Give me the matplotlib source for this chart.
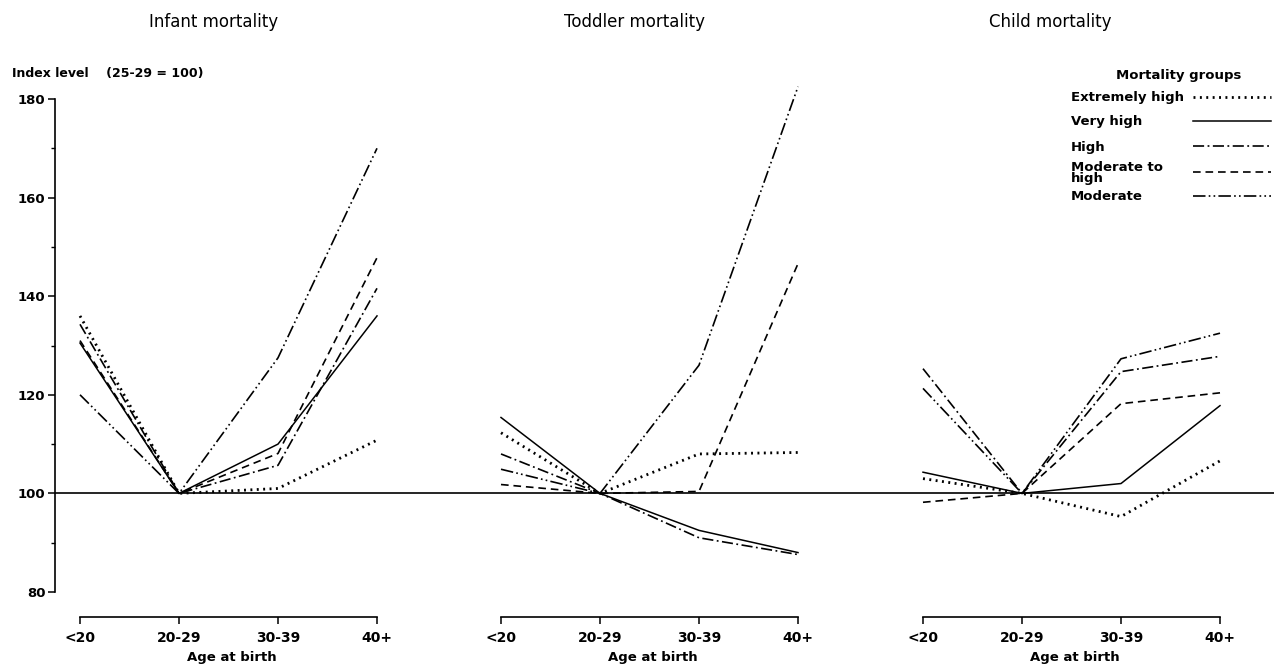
import matplotlib
matplotlib.use("Agg")
import matplotlib.pyplot as plt
from matplotlib.ticker import MultipleLocator

plt.rcParams['font.family'] = ['DejaVu Sans']
plt.rcParams['lines.scale_dashes'] = False

ages = ['<20', '20-29', '30-39', '40+']
panel_titles = ['Infant mortality', 'Toddler mortality', 'Child mortality']
groups = ['Extremely high', 'Very high', 'High', 'Moderate to\nhigh', 'Moderate']

# rows follow the order of groups, columns follow ages
infant = [
    [136.0, 100, 101.0, 110.8],
    [130.5, 100, 110.0, 136.0],
    [134.3, 100, 105.7, 141.6],
    [131.0, 100, 108.1, 147.8],
    [120.0, 100, 127.5, 170.0],
]
toddler = [
    [112.3, 100, 108.0, 108.3],
    [115.4, 100, 92.5, 88.0],
    [108.0, 100, 91.0, 87.6],
    [101.8, 100, 100.4, 146.6],
    [104.9, 100, 126.0, 182.5],
]
child = [
    [103.0, 100, 95.3, 106.6],
    [104.3, 100, 102.0, 117.8],
    [125.3, 100, 124.7, 127.8],
    [98.2, 100, 118.2, 120.4],
    [121.3, 100, 127.3, 132.5],
]
panel_data = [infant, toddler, child]

# line style per group (dashes in points)
styles = [
    dict(ls=(0, (1.4, 3.2)), lw=2.0),
    dict(ls='-', lw=1.1),
    dict(ls=(0, (8, 2.5, 1.3, 2.5)), lw=1.2),
    dict(ls=(0, (5.5, 3.5)), lw=1.2),
    dict(ls=(0, (9, 2.3, 1.2, 2.3, 1.2, 2.3)), lw=1.2),
]

W, H = 1274, 668
fig = plt.figure(figsize=(W / 100, H / 100), dpi=100)

y_bot, y_top = 592, 99  # pixel rows of 80 and 180

# shared y axis and the 100 reference line
ax0 = fig.add_axes([55 / W, 1 - y_bot / H, (W - 55) / W, (y_bot - y_top) / H])
ax0.set_ylim(80, 180)
ax0.set_xlim(0, 1)
ax0.axhline(100, color='black', lw=1.2)
for s in ['top', 'right', 'bottom']:
    ax0.spines[s].set_visible(False)
ax0.spines['left'].set_linewidth(1.2)
ax0.set_xticks([])
ax0.yaxis.set_major_locator(MultipleLocator(20))
ax0.yaxis.set_minor_locator(MultipleLocator(10))
ax0.tick_params(axis='y', which='major', length=5, width=1.1, pad=2, labelsize=9.5)
ax0.tick_params(axis='y', which='minor', length=3, width=1.0)
for lab in ax0.get_yticklabels():
    lab.set_fontweight('bold')

fig.text(12 / W, 1 - 73 / H, 'Index level    (25-29 = 100)', fontsize=9,
         fontweight='bold', va='center', ha='left')

lefts = [80, 501, 923]
title_x = [214, 634, 1050]
for i, data in enumerate(panel_data):
    ax = fig.add_axes([lefts[i] / W, 1 - y_bot / H, 297 / W, (y_bot - y_top) / H])
    ax.patch.set_visible(False)
    ax.set_xlim(0, 3)
    ax.set_ylim(80, 180)
    for s in ['top', 'right', 'left']:
        ax.spines[s].set_visible(False)
    ax.spines['bottom'].set_position(('outward', 18))
    ax.spines['bottom'].set_linewidth(1.2)
    ax.set_yticks([])
    ax.set_xticks(range(len(ages)))
    ax.set_xticklabels(ages, fontsize=10, fontweight='bold')
    ax.tick_params(axis='x', length=5, width=1.1, pad=5)
    for row, st in zip(data, styles):
        ax.plot(range(len(ages)), row, color='black', clip_on=False,
                linestyle=st['ls'], linewidth=st['lw'])
    fig.text(title_x[i] / W, 1 - 22 / H, panel_titles[i], fontsize=12,
             ha='center', va='center')
    fig.text((lefts[i] + 152) / W, 1 - 658 / H, 'Age at birth', fontsize=9.5,
             fontweight='bold', ha='center', va='center')

# legend drawn by hand so labels sit left and samples right
axl = fig.add_axes([1060 / W, 1 - 210 / H, 214 / W, 150 / H])
axl.set_xlim(0, 214)
axl.set_ylim(210, 60)
axl.axis('off')
axl.text(119, 75, 'Mortality groups', fontsize=9.5, fontweight='bold',
         ha='center', va='center')
row_y = [97, 121, 147, 173, 197]
line_y = [97, 121, 146, 172, 196]
for g, st, ty, ly in zip(groups, styles, row_y, line_y):
    axl.text(11, ty, g, fontsize=9.5, fontweight='bold', ha='left', va='center',
             linespacing=0.85)
    axl.plot([133, 211], [ly, ly], color='black', linestyle=st['ls'],
             linewidth=st['lw'], clip_on=False)

fig.savefig('out.png', dpi=100)
